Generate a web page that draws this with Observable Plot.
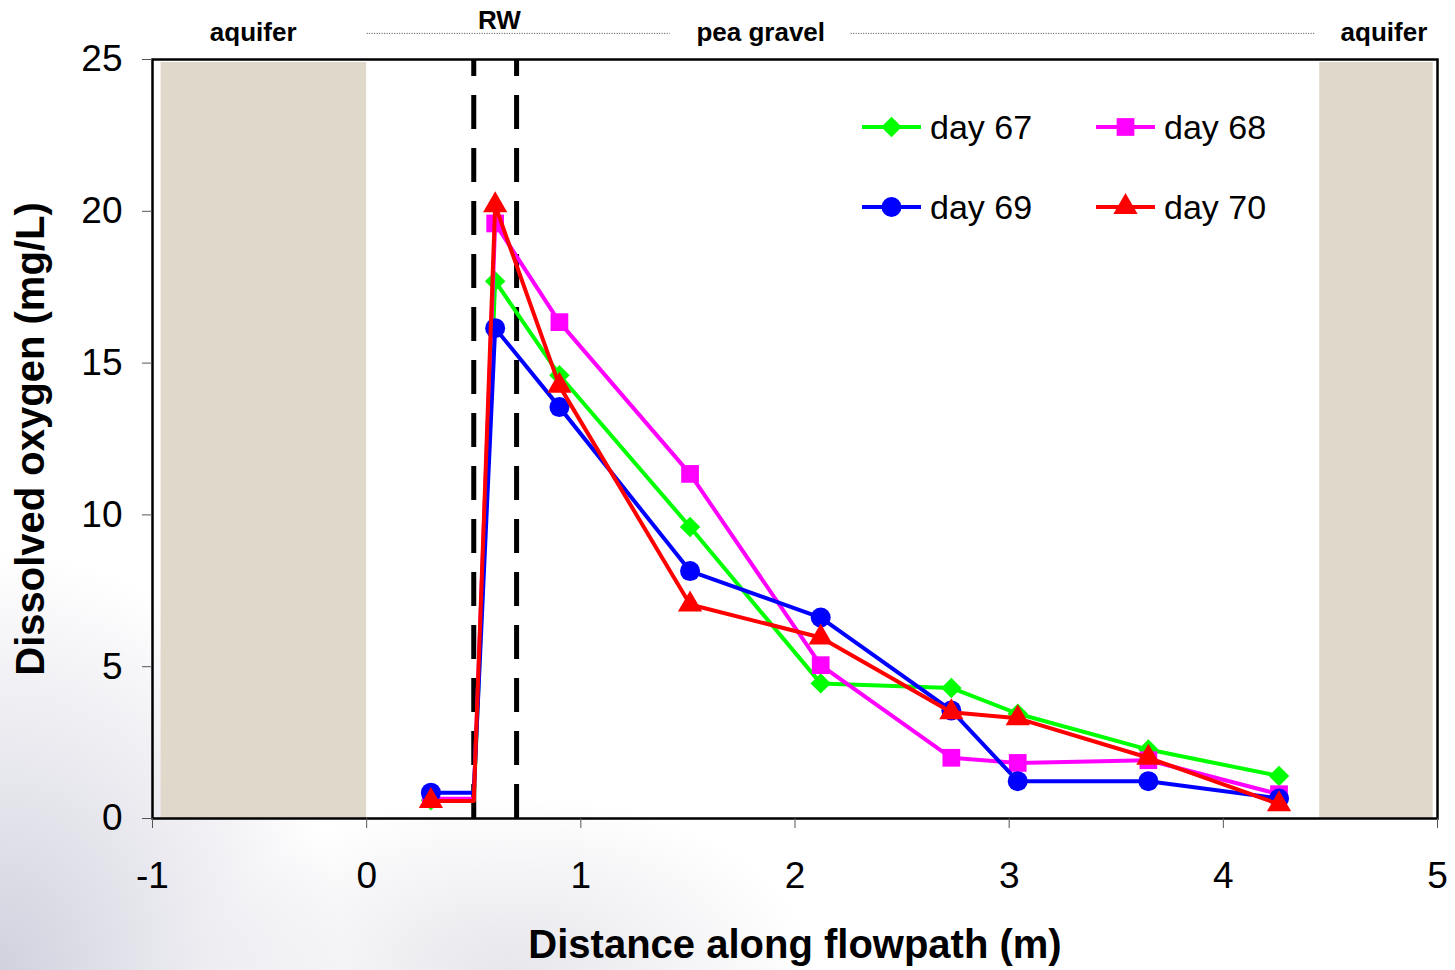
<!DOCTYPE html>
<html>
<head>
<meta charset="utf-8">
<script src="https://cdn.jsdelivr.net/npm/d3@7"></script>
<script src="https://cdn.jsdelivr.net/npm/@observablehq/plot@0.6"></script>
<style>
  html, body { margin: 0; padding: 0; }
  body {
    width: 1455px; height: 970px; overflow: hidden;
    background:
      radial-gradient(ellipse 460px 560px at 0% 100%, rgba(185,185,205,0.65), rgba(255,255,255,0) 75%),
      radial-gradient(ellipse 380px 220px at 35% 100%, rgba(200,200,212,0.45), rgba(255,255,255,0) 80%),
      #ffffff;
    font-family: Arial, "Liberation Sans", sans-serif;
  }
  #chart { position: relative; width: 1455px; height: 970px; }
  #chart svg { position: absolute; left: 0; top: 0; }
</style>
</head>
<body>
<div id="chart"></div>
<script>
// Sampling distances along the flowpath (m); 0.5 is the inner wall of the reactive wall
const distances = [0.3, 0.5, 0.6, 0.9, 1.51, 2.12, 2.73, 3.04, 3.65, 4.26];
const markerShown = [true, false, true, true, true, true, true, true, true, true];

// Dissolved oxygen (mg/L) per sampling day
const day67 = [0.6, 0.6, 17.7, 14.6, 9.6, 4.45, 4.3, 3.45, 2.27, 1.4];
const day68 = [0.65, 0.65, 19.6, 16.35, 11.35, 5.05, 2.0, 1.83, 1.92, 0.8];
const day69 = [0.85, 0.85, 16.15, 13.55, 8.15, 6.62, 3.56, 1.23, 1.23, 0.66];
const day70 = [0.58, 0.58, 20.2, 14.25, 7.05, 5.96, 3.5, 3.3, 2.0, 0.47];

const seriesNames = ["day 67", "day 68", "day 69", "day 70"];
const seriesValues = [day67, day68, day69, day70];
const seriesColors = ["#00ff00", "#ff00ff", "#0000ff", "#ff0000"];
const seriesSymbols = ["diamond2", "square", "circle", "triangle"];
const seriesRadii = [9.2, 10, 10, 9];

// Aquifer zones (shaded) and reactive wall boundaries (dashed)
const aquiferStart = [-0.96, 4.45];
const aquiferEnd = [0, 4.98];
const wallBounds = [0.5, 0.7];

// Zone labels across the top and the dotted dividers between them
const zoneLabels = ["aquifer", "RW", "pea gravel", "aquifer"];
const zoneLabelX = [-0.53, 0.62, 1.84, 4.75];
const zoneLabelLift = [27, 39, 27, 27];
const dividerStart = [0.0, 2.26];
const dividerEnd = [1.415, 4.43];

const xTicks = [-1, 0, 1, 2, 3, 4, 5];
const yTicks = [0, 5, 10, 15, 20, 25];

const rows = seriesNames.flatMap((name, s) =>
  distances.map((x, i) => ({series: name, x, y: seriesValues[s][i], marker: markerShown[i]}))
);
const zones = aquiferStart.map((x1, i) => ({x1, x2: aquiferEnd[i]}));
const dividers = dividerStart.map((x1, i) => ({x1, x2: dividerEnd[i]}));
const labels = zoneLabels.map((t, i) => ({t, x: zoneLabelX[i], lift: zoneLabelLift[i]}));

const seriesMarks = seriesNames.flatMap((name, s) => {
  const data = rows.filter(d => d.series === name);
  return [
    Plot.line(data, {x: "x", y: "y", stroke: seriesColors[s], strokeWidth: 4, strokeLinejoin: "round"}),
    Plot.dot(data.filter(d => d.marker), {x: "x", y: "y", symbol: seriesSymbols[s], r: seriesRadii[s], fill: seriesColors[s], stroke: "none"})
  ];
});

const chart = Plot.plot({
  width: 1455,
  height: 970,
  marginLeft: 152,
  marginRight: 18,
  marginTop: 59,
  marginBottom: 152,
  style: {background: "transparent", fontFamily: "Arial, 'Liberation Sans', sans-serif", color: "black"},
  x: {domain: [-1, 5]},
  y: {domain: [0, 25]},
  marks: [
    Plot.rect(zones, {x1: "x1", x2: "x2", y1: 0, y2: 24.9, fill: "#e0d9cb"}),
    Plot.ruleX(wallBounds, {stroke: "black", strokeWidth: 5, strokeDasharray: "34,19", y1: 0, y2: 25}),
    ...seriesMarks,
    Plot.frame({stroke: "black", strokeWidth: 2.5}),
    Plot.axisX({ticks: xTicks, tickSize: 10, tickPadding: 33, stroke: "#555", fill: "black", fontSize: 37,
      tickFormat: d => String(d), label: null}),
    Plot.axisY({ticks: yTicks, tickSize: 10, tickPadding: 20, stroke: "#555", fill: "black", fontSize: 37,
      tickFormat: d => String(d), label: null}),
    // axis titles
    Plot.text(["Distance along flowpath (m)"], {frameAnchor: "bottom", dy: 127, text: d => d,
      fontSize: 40, fontWeight: "bold", lineAnchor: "middle"}),
    Plot.text(["Dissolved oxygen (mg/L)"], {frameAnchor: "left", dx: -121, rotate: -90, text: d => d,
      fontSize: 40, fontWeight: "bold", lineAnchor: "middle", textAnchor: "middle"}),
    // zone labels and dotted dividers along the top
    Plot.link(dividers, {x1: "x1", x2: "x2", y1: 25.86, y2: 25.86, stroke: "#444", strokeWidth: 1, strokeDasharray: "1,1.5"}),
    ...labels.map(l => Plot.text([l], {x: "x", frameAnchor: "top", dy: -l.lift, text: "t",
      fontSize: 26, fontWeight: "bold", lineAnchor: "middle"}))
  ]
});
document.getElementById("chart").appendChild(chart);

// Legend: two rows of two entries inside the plot area
const legend = d3.select("#chart").append("svg")
  .attr("width", 1455).attr("height", 970)
  .style("pointer-events", "none")
  .attr("font-family", "Arial, 'Liberation Sans', sans-serif");
const legendX = [862, 1096];
const legendY = [127, 207];
const symbolTypes = {diamond2: d3.symbolDiamond2, square: d3.symbolSquare, circle: d3.symbolCircle, triangle: d3.symbolTriangle};
seriesNames.forEach((name, s) => {
  const x0 = legendX[s % 2], y0 = legendY[Math.floor(s / 2)];
  const g = legend.append("g").attr("transform", `translate(${x0},${y0})`);
  g.append("line").attr("x1", 0).attr("x2", 59).attr("stroke", seriesColors[s]).attr("stroke-width", 4);
  g.append("path")
    .attr("transform", "translate(29.5,0)")
    .attr("d", d3.symbol(symbolTypes[seriesSymbols[s]], Math.PI * seriesRadii[s] ** 2)())
    .attr("fill", seriesColors[s]);
  g.append("text").attr("x", 68).attr("dy", "0.35em").attr("font-size", 34).attr("fill", "black").text(name);
});
</script>
</body>
</html>
